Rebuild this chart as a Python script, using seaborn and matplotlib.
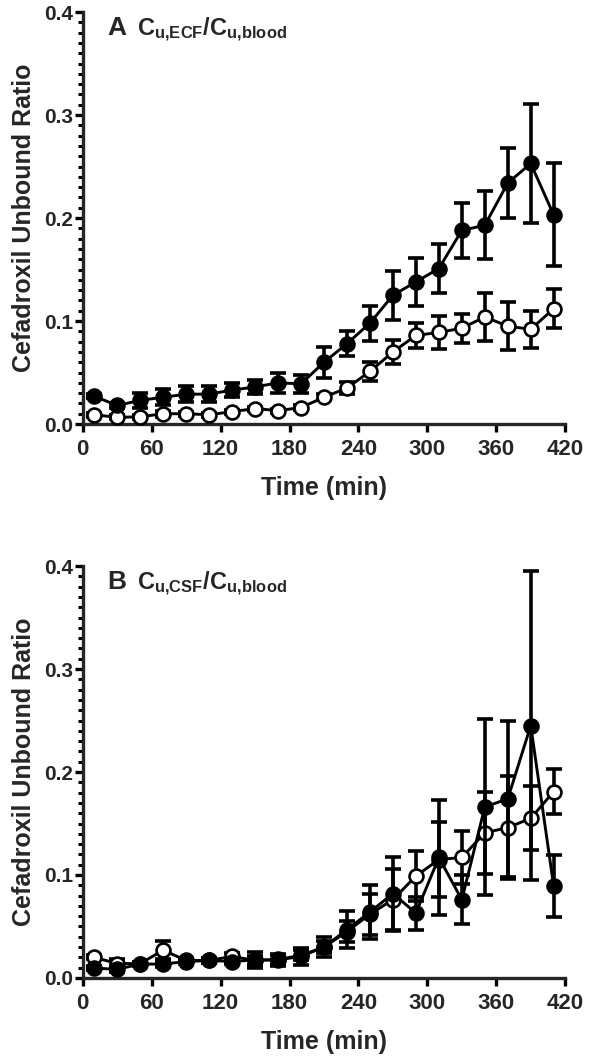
import matplotlib
matplotlib.use("Agg")
import matplotlib.pyplot as plt
from matplotlib.ticker import MultipleLocator, FormatStrFormatter
import numpy as np
import pandas as pd
import seaborn as sns

# time points (min)
time = [10, 30, 50, 70, 90, 110, 130, 150, 170, 190, 210,
        230, 250, 270, 290, 310, 330, 350, 370, 390, 410]

# panel A: Cu,ECF / Cu,blood
ecf_filled = [0.027, 0.018, 0.023, 0.026, 0.029, 0.029, 0.033, 0.036, 0.040, 0.039, 0.060,
              0.078, 0.098, 0.125, 0.138, 0.151, 0.188, 0.193, 0.234, 0.253, 0.203]
ecf_filled_sem = [0.002, 0.002, 0.007, 0.008, 0.008, 0.008, 0.007, 0.007, 0.010, 0.009, 0.015,
                  0.012, 0.017, 0.024, 0.023, 0.024, 0.027, 0.033, 0.034, 0.058, 0.050]
ecf_open = [0.009, 0.0065, 0.007, 0.010, 0.010, 0.009, 0.012, 0.015, 0.013, 0.016, 0.026,
            0.035, 0.051, 0.070, 0.086, 0.089, 0.093, 0.104, 0.095, 0.092, 0.112]
ecf_open_sem = [0.002, 0.002, 0.002, 0.003, 0.002, 0.002, 0.002, 0.002, 0.002, 0.002, 0.003,
                0.006, 0.009, 0.012, 0.012, 0.016, 0.014, 0.023, 0.023, 0.018, 0.019]

# panel B: Cu,CSF / Cu,blood
csf_filled = [0.0095, 0.0085, 0.0135, 0.0135, 0.016, 0.017, 0.016, 0.0175, 0.0175, 0.021, 0.030,
              0.047, 0.064, 0.082, 0.063, 0.117, 0.076, 0.166, 0.174, 0.245, 0.089]
csf_filled_sem = [0.002, 0.003, 0.002, 0.003, 0.002, 0.002, 0.002, 0.008, 0.006, 0.008, 0.010,
                  0.018, 0.026, 0.035, 0.016, 0.056, 0.024, 0.085, 0.076, 0.150, 0.030]
csf_open = [0.020, 0.014, 0.014, 0.027, 0.017, 0.017, 0.021, 0.017, 0.018, 0.022, 0.030,
            0.045, 0.062, 0.076, 0.099, 0.115, 0.117, 0.141, 0.146, 0.155, 0.181]
csf_open_sem = [0.002, 0.004, 0.002, 0.009, 0.002, 0.002, 0.003, 0.004, 0.004, 0.005, 0.006,
                0.010, 0.020, 0.030, 0.024, 0.036, 0.026, 0.040, 0.050, 0.031, 0.022]

sns.set_style("ticks")
plt.rcParams["font.family"] = ["Liberation Sans", "DejaVu Sans"]
plt.rcParams["font.weight"] = "bold"
plt.rcParams["mathtext.fontset"] = "custom"
plt.rcParams["mathtext.rm"] = "Liberation Sans:bold"
plt.rcParams["mathtext.bf"] = "Liberation Sans:bold"
plt.rcParams["mathtext.it"] = "Liberation Sans:bold"


def draw_series(ax, vals, sem, face, z):
    ax.errorbar(time, vals, yerr=sem, fmt="none", ecolor="black", elinewidth=2.6,
                capsize=5.5, capthick=2.6, zorder=z, clip_on=False)
    df = pd.DataFrame({"t": time, "v": vals})
    sns.lineplot(data=df, x="t", y="v", ax=ax, color="black", linewidth=2.1,
                 marker="o", markersize=10, markerfacecolor=face,
                 markeredgecolor="black", markeredgewidth=1.9, zorder=z + 1,
                 clip_on=False)


def style_axis(ax, letter, title):
    ax.set_xlim(0, 420)
    ax.set_ylim(0, 0.4)
    ax.xaxis.set_major_locator(MultipleLocator(60))
    ax.yaxis.set_major_locator(MultipleLocator(0.1))
    ax.yaxis.set_minor_locator(MultipleLocator(0.01))
    ax.yaxis.set_major_formatter(FormatStrFormatter("%.1f"))
    sns.despine(ax=ax)
    for s in ["left", "bottom"]:
        ax.spines[s].set_linewidth(2.4)
    ax.tick_params(which="major", direction="out", length=6, width=2.4, color="black")
    ax.tick_params(which="minor", axis="y", direction="out", length=3.5, width=2.2, color="black")
    ax.tick_params(axis="x", labelsize=16, pad=5)
    ax.tick_params(axis="y", labelsize=15, pad=1)
    for lab in ax.get_xticklabels() + ax.get_yticklabels():
        lab.set_fontweight("bold")
    ax.set_xlabel("Time (min)", fontsize=18, fontweight="bold", labelpad=11)
    ax.set_ylabel("Cefadroxil Unbound Ratio", fontsize=18, fontweight="bold", labelpad=6)
    ax.text(0.05, 0.962, letter, transform=ax.transAxes, fontsize=19,
            fontweight="bold", va="center", ha="left")
    ax.text(0.112, 0.956, title, transform=ax.transAxes, fontsize=17,
            va="center", ha="left")


fig = plt.figure(figsize=(6, 10.59), dpi=100)
axA = fig.add_axes([0.138, 0.5996, 0.804, 0.389])
axB = fig.add_axes([0.138, 0.0765, 0.804, 0.389])

draw_series(axA, ecf_open, ecf_open_sem, "white", 2)
draw_series(axA, ecf_filled, ecf_filled_sem, "black", 4)
style_axis(axA, "A", r"$\mathbf{C_{u{,}ECF}/C_{u{,}blood}}$")

draw_series(axB, csf_open, csf_open_sem, "white", 2)
draw_series(axB, csf_filled, csf_filled_sem, "black", 4)
style_axis(axB, "B", r"$\mathbf{C_{u{,}CSF}/C_{u{,}blood}}$")

fig.savefig("out.png", dpi=100)
